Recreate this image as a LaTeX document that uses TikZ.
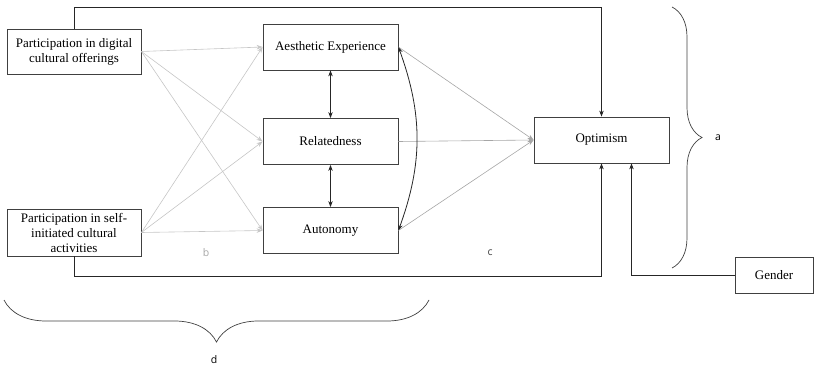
\documentclass[tikz,border=0pt]{standalone}
\usepackage{fontspec}
\setmainfont{Liberation Serif}
\newfontfamily\lblfont{Open Sans}
\usetikzlibrary{arrows.meta, positioning, calc, decorations.pathreplacing}
\tikzset{
    font=\fontsize{13}{15}\selectfont,
    >={Stealth[length=6pt,width=4.5pt]},
    % Shapes
    box/.style={rectangle, draw=black!75, line width=0.8pt, fill=white,
                minimum width=135pt, minimum height=46pt, align=center, inner sep=2pt},
    % Flow & Labels
    flow/.style={->, line width=0.8pt, black!85},
    pathIn/.style={->, line width=0.6pt, gray!45},
    pathOut/.style={->, line width=0.6pt, gray!70},
    corr/.style={<->, line width=0.8pt, black!85},
    bracket/.style={decorate, line width=0.7pt, black!75},
    lbl/.style={font=\lblfont\fontsize{10.5}{12}\selectfont, inner sep=1pt}
}
\begin{document}
\begin{tikzpicture}[x=1pt, y=-1pt]
\useasboundingbox (0,0) rectangle (814,366);

\node[box, minimum width=134pt, minimum height=45pt] (dig) at (74,51.5) {Participation in digital\\cultural offerings};
\node[box, minimum width=134pt, minimum height=47pt] (self) at (74,232.5) {Participation in self-\\initiated cultural\\activities};
\node[box] (aes) at (330.5,47) {Aesthetic Experience};
\node[box] (rel) at (330.5,141.5) {Relatedness};
\node[box] (aut) at (330.5,230.5) {Autonomy};
\node[box] (opt) at (601.5,140) {Optimism};
\node[box, minimum width=78pt, minimum height=36pt] (gen) at (774,275) {Gender};

% predictors -> mediators
\foreach \m in {aes, rel, aut} {
    \draw[pathIn] (dig.east) -- (\m.west);
    \draw[pathIn] (self.east) -- (\m.west);
    \draw[pathOut] (\m.east) -- (opt.west);
}

% mediator correlations
\draw[corr] (aes) -- (rel);
\draw[corr] (rel) -- (aut);
\draw[corr] (aes.east) to[bend left=20] (aut.east);

% direct effects
\draw[flow] (dig.north) -- ++(0,-21) -| (opt.north);
\draw[flow] (self.south) -- ++(0,20) -| (opt.south);
\draw[flow] (gen.west) -| ([xshift=30pt]opt.south);

% braces
\draw[bracket, decoration={brace, amplitude=30pt}] (672,7) -- (672,268);
\draw[bracket, decoration={brace, amplitude=42pt}] (429,300) -- (4,300);

\node[lbl] (la) at (718,138) {a};
\node[lbl] (ld) at (214,360) {d};
\node[lbl, text=gray!70] (lb) at (206,253) {b};
\node[lbl, text=black!75] (lc) at (490,253) {c};

\end{tikzpicture}
\end{document}
